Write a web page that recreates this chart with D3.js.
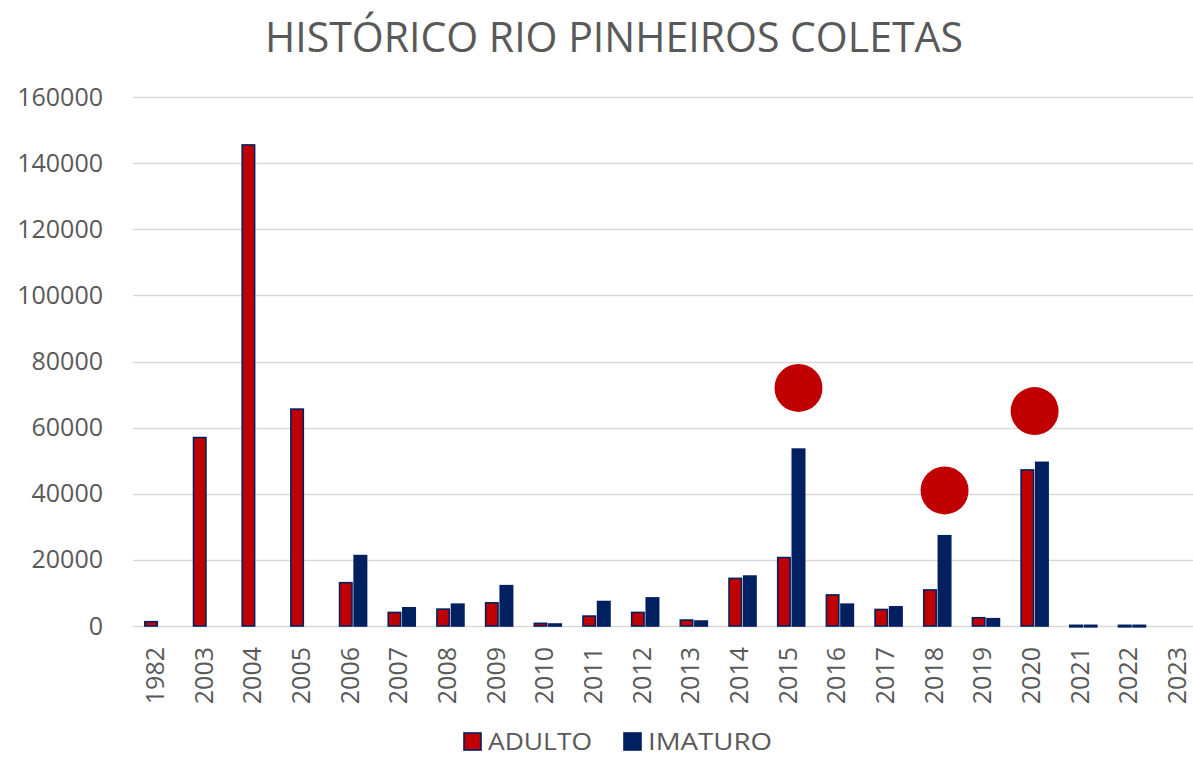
<!DOCTYPE html>
<html>
<head>
<meta charset="utf-8">
<script src="https://cdn.jsdelivr.net/npm/d3@7"></script>
<style>
  html, body { margin: 0; padding: 0; background: #fff; }
  svg { display: block; }
  text { font-family: "Open Sans", sans-serif; fill: #595959; }
</style>
</head>
<body>
<svg id="chart" width="1193" height="758"></svg>
<script>
// ---- data ----
const years = ["1982","2003","2004","2005","2006","2007","2008","2009","2010","2011","2012","2013","2014","2015","2016","2017","2018","2019","2020","2021","2022","2023"];
const adulto  = [1300, 57000, 145500, 65600, 13100, 4100, 5100, 7000, 800, 3000, 4100, 1800, 14400, 20700, 9400, 5000, 10900, 2500, 47200, 200, 200, 0];
const imaturo = [0, 0, 0, 0, 21300, 5500, 6600, 12200, 600, 7400, 8500, 1500, 15100, 53500, 6600, 5800, 27300, 2200, 49500, 200, 200, 0];
const seriesNames = ["ADULTO", "IMATURO"];
const yTicks = [0, 20000, 40000, 60000, 80000, 100000, 120000, 140000, 160000];
const highlightYears = ["2015", "2018", "2020"];
const highlightSeries = ["IMATURO", "IMATURO", null];
const highlightValues = [72000, 41000, 65000];
const titleText = "HISTÓRICO RIO PINHEIROS COLETAS";

// ---- styles ----
const RED = "#C00000", NAVY = "#002060", GRID = "#D9D9D9";

const svg = d3.select("#chart");
const W = 1193;
const plotLeft = 134, plotRight = 1205, plotTop = 97, plotBottom = 626;

const x0 = d3.scaleBand().domain(years).range([plotLeft, plotRight]).paddingInner(0).paddingOuter(0);
const bw = x0.bandwidth();
const x1 = d3.scaleBand().domain(seriesNames).range([bw / 2 - 13.5, bw / 2 + 13.5]).paddingInner(0.15);
const y = d3.scaleLinear().domain([0, 160000]).range([plotBottom, plotTop]);

// title
svg.append("text")
  .attr("x", 265).attr("y", 52)
  .attr("textLength", 698).attr("lengthAdjust", "spacingAndGlyphs")
  .style("font-size", "42px")
  .text(titleText);

// gridlines
svg.append("g").selectAll("line").data(yTicks).join("line")
  .attr("x1", plotLeft - 1).attr("x2", W)
  .attr("y1", d => Math.round(y(d)) + 0.5).attr("y2", d => Math.round(y(d)) + 0.5)
  .attr("stroke", GRID).attr("stroke-width", 1.5);

// y axis labels
const yAxis = d3.axisLeft(y).tickValues(yTicks).tickSize(0).tickPadding(0).tickFormat(d3.format("d"));
const gy = svg.append("g").attr("transform", `translate(103,0)`).call(yAxis);
gy.select(".domain").remove();
gy.selectAll("text").style("font-size", "25px").attr("fill", "#595959").attr("font-family", "Open Sans");

// bars
const rows = years.map((yr, i) => ({ year: yr, vals: [ {k: "ADULTO", v: adulto[i]}, {k: "IMATURO", v: imaturo[i]} ] }));
const gBars = svg.append("g");
const grp = gBars.selectAll("g").data(rows).join("g")
  .attr("transform", d => `translate(${x0(d.year)},0)`);
grp.selectAll("rect").data(d => d.vals.filter(e => e.v > 0)).join("rect")
  .attr("x", e => x1(e.k))
  .attr("width", x1.bandwidth())
  .attr("y", e => y(e.v))
  .attr("height", e => Math.max(1.5, y(0) - y(e.v)))
  .attr("fill", e => e.k === "ADULTO" ? RED : NAVY)
  .attr("stroke", NAVY).attr("stroke-width", 1.6);

// x axis labels
const xAxis = d3.axisBottom(x0).tickSize(0).tickPadding(0);
const gx = svg.append("g").attr("transform", `translate(0,${plotBottom})`).call(xAxis);
gx.select(".domain").remove();
gx.selectAll("text")
  .style("font-size", "25px").attr("fill", "#595959").attr("font-family", "Open Sans")
  .attr("text-anchor", "end")
  .attr("dy", "0.3em")
  .attr("y", 0)
  .attr("transform", "translate(-2,21) rotate(-90)");

// highlight circles
svg.append("g").selectAll("circle")
  .data(highlightYears.map((yr, i) => ({ yr, s: highlightSeries[i], v: highlightValues[i] })))
  .join("circle")
  .attr("cx", d => x0(d.yr) + (d.s ? x1(d.s) + x1.bandwidth() / 2 : bw / 2))
  .attr("cy", d => y(d.v))
  .attr("r", 24)
  .attr("fill", RED);

// legend
const legend = svg.append("g");
const legX = [464, 624];
const legLen = [104, 124];
seriesNames.forEach((s, i) => {
  legend.append("rect")
    .attr("x", legX[i]).attr("y", 733).attr("width", 17).attr("height", 17)
    .attr("fill", i === 0 ? RED : NAVY)
    .attr("stroke", NAVY).attr("stroke-width", 1.6);
  legend.append("text")
    .attr("x", legX[i] + 24).attr("y", 750)
    .attr("textLength", legLen[i]).attr("lengthAdjust", "spacingAndGlyphs")
    .style("font-size", "24px")
    .text(s);
});
</script>
</body>
</html>
